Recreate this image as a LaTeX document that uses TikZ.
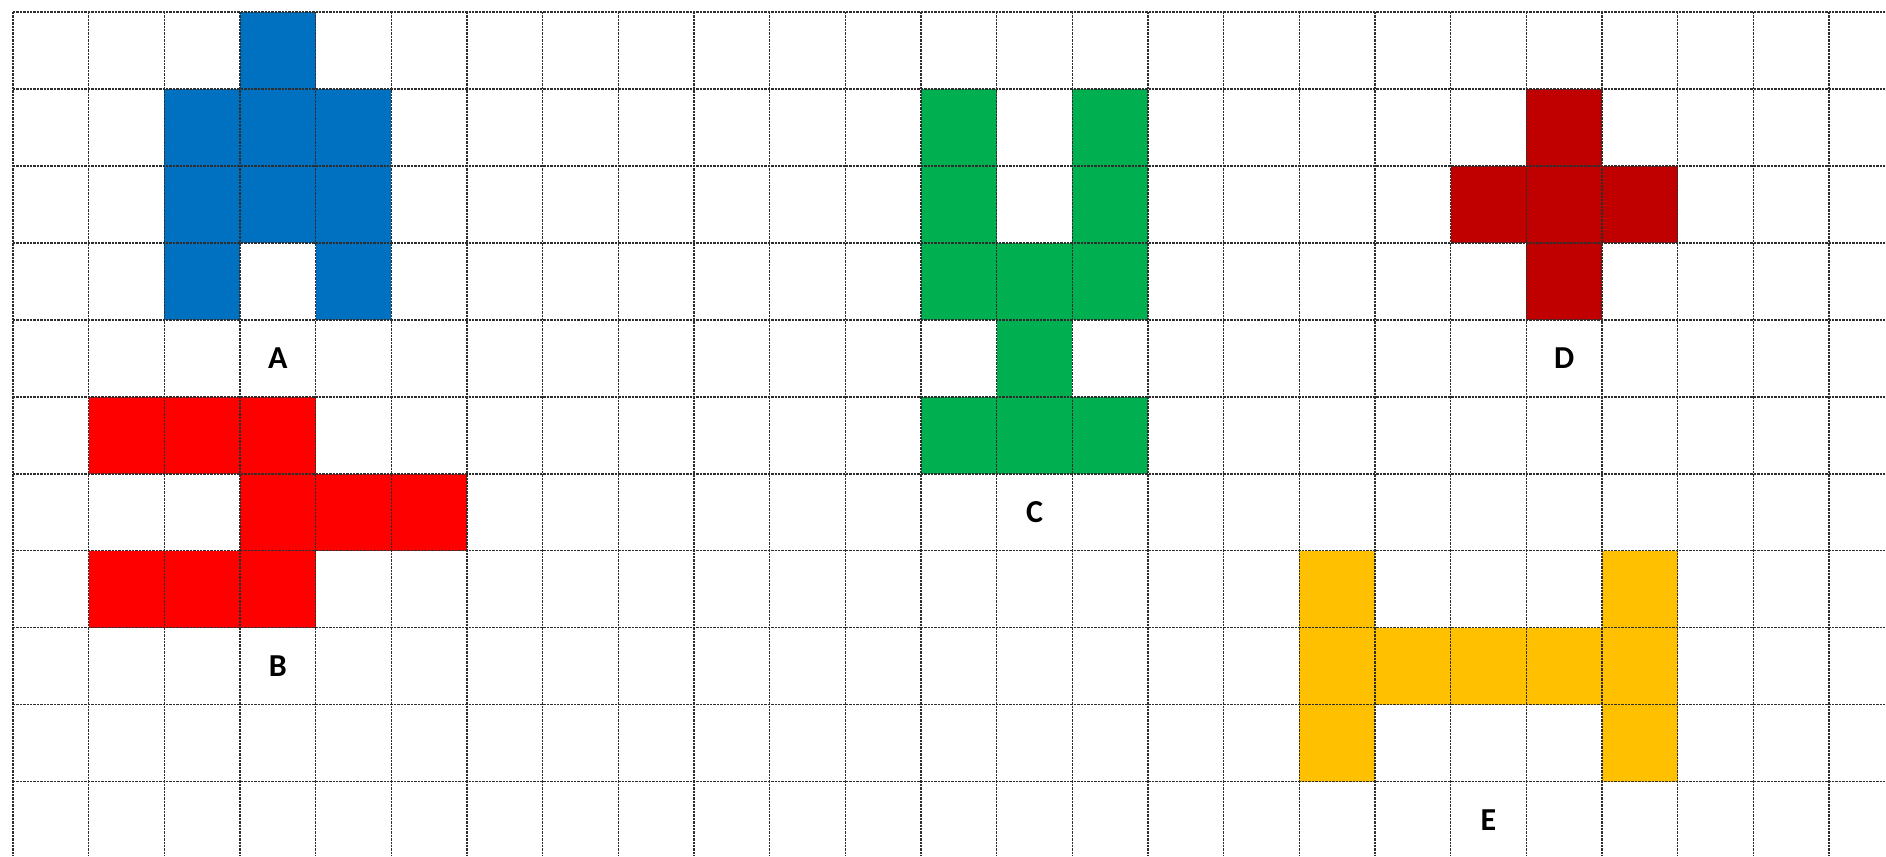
\documentclass[tikz,border=0pt]{standalone}
\usepackage{fontspec}
\setmainfont{Carlito}
\usepackage{xcolor}
\usetikzlibrary{positioning}
\definecolor{shapeA}{HTML}{0070C0}
\definecolor{shapeB}{HTML}{FF0000}
\definecolor{shapeC}{HTML}{00B050}
\definecolor{shapeD}{HTML}{C00000}
\definecolor{shapeE}{HTML}{FFC000}
\definecolor{gridline}{HTML}{2E2E2E}
\newcommand{\Lab}{\fontsize{16}{19}\selectfont\bfseries}

\begin{document}
\begin{tikzpicture}[x=37.835pt,y=-38.485pt, font=\Lab,
    gridrule/.style={gridline,line width=0.7pt,dash pattern=on 1.2pt off 0.5pt},
    lab/.style={inner sep=0pt,text=black}]
      \useasboundingbox (-0.172,-0.156) rectangle (24.753,10.966);
      \fill[white] (-0.172,-0.156) rectangle (24.753,10.966);
      % SHAPES (column/row of each filled cell)
      \foreach \c/\r in {3/0, 2/1,3/1,4/1, 2/2,3/2,4/2, 2/3,4/3}{\fill[shapeA] (\c,\r) rectangle ++(1,1);}
      \foreach \c/\r in {1/5,2/5,3/5, 3/6,4/6,5/6, 1/7,2/7,3/7}{\fill[shapeB] (\c,\r) rectangle ++(1,1);}
      \foreach \c/\r in {12/1,14/1, 12/2,14/2, 12/3,13/3,14/3, 13/4, 12/5,13/5,14/5}{\fill[shapeC] (\c,\r) rectangle ++(1,1);}
      \foreach \c/\r in {20/1, 19/2,20/2,21/2, 20/3}{\fill[shapeD] (\c,\r) rectangle ++(1,1);}
      \foreach \c/\r in {17/7,21/7, 17/8,18/8,19/8,20/8,21/8, 17/9,21/9}{\fill[shapeE] (\c,\r) rectangle ++(1,1);}
      % GRID
      \foreach \g in {0,...,10}{\draw[gridrule] (0,\g)--(24.753,\g);}
      \foreach \g in {0,...,24}{\draw[gridrule] (\g,0)--(\g,10.966);}
      % LABELS
      \foreach \nm/\x/\y in {A/3.5/4.5, B/3.5/8.5, C/13.5/6.5, D/20.5/4.5, E/19.5/10.5}{
        \node[lab] (lab\nm) at (\x,\y){\nm};}
    \end{tikzpicture}
\end{document}
